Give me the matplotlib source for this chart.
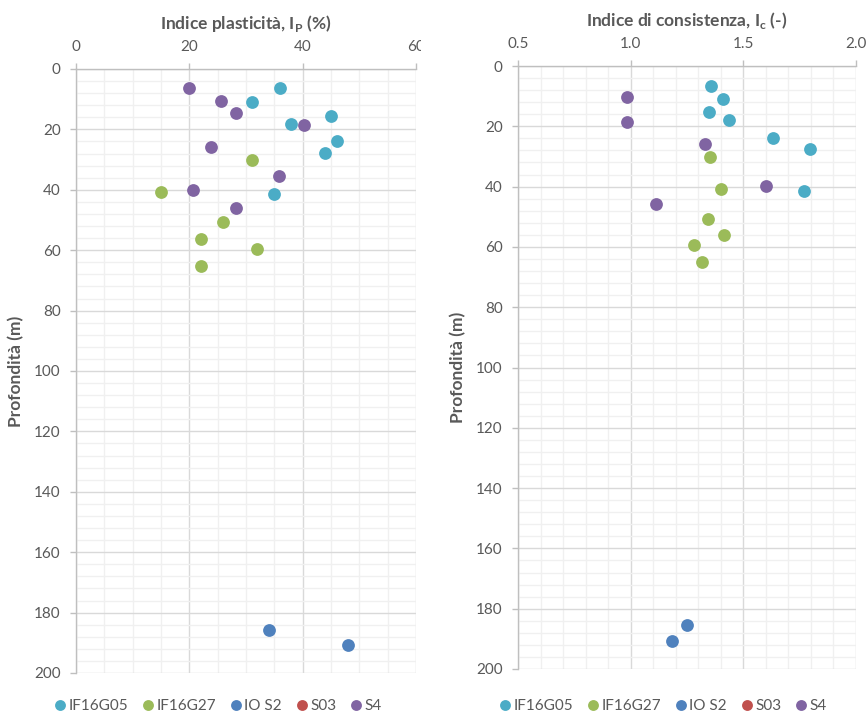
import matplotlib.pyplot as plt
from matplotlib.ticker import MultipleLocator
from matplotlib.patches import Rectangle

plt.rcParams["font.family"] = ["Lato", "DejaVu Sans"]
plt.rcParams["mathtext.fontset"] = "custom"
plt.rcParams["mathtext.rm"] = "Lato:bold"

series = ["IF16G05", "IF16G27", "IO S2", "S03", "S4"]
colors = ["#4BACC6", "#9BBB59", "#4F81BD", "#C0504D", "#8064A2"]

# plasticity index Ip (%) and depth (m) per borehole
ip_if16g05 = [36.0, 31.1, 45.0, 38.0, 46.1, 43.9, 34.9]
z_ip_if16g05 = [6.4, 10.8, 15.4, 18.2, 24.0, 27.7, 41.5]
ip_if16g27 = [31.1, 15.0, 26.0, 22.0, 31.9, 22.0]
z_ip_if16g27 = [30.2, 40.8, 50.8, 56.2, 59.6, 65.2]
ip_ios2 = [34.0, 48.0]
z_ip_ios2 = [185.7, 190.7]
ip_s03 = []
z_ip_s03 = []
ip_s4 = [20.0, 25.6, 28.3, 40.2, 23.9, 35.9, 20.6, 28.3]
z_ip_s4 = [6.3, 10.6, 14.7, 18.7, 25.9, 35.4, 40.0, 46.0]

# consistency index Ic (-) and depth (m) per borehole
ic_if16g05 = [1.355, 1.410, 1.348, 1.435, 1.631, 1.797, 1.770]
z_ic_if16g05 = [6.5, 10.8, 15.3, 18.0, 23.8, 27.5, 41.3]
ic_if16g27 = [1.354, 1.400, 1.345, 1.412, 1.283, 1.316]
z_ic_if16g27 = [30.1, 40.7, 50.7, 56.1, 59.5, 65.0]
ic_ios2 = [1.250, 1.182]
z_ic_ios2 = [185.4, 190.6]
ic_s03 = []
z_ic_s03 = []
ic_s4 = [0.982, 0.985, 1.331, 1.600, 1.114]
z_ic_s4 = [10.4, 18.6, 25.8, 39.8, 45.7]

ip_data = [(ip_if16g05, z_ip_if16g05), (ip_if16g27, z_ip_if16g27),
           (ip_ios2, z_ip_ios2), (ip_s03, z_ip_s03), (ip_s4, z_ip_s4)]
ic_data = [(ic_if16g05, z_ic_if16g05), (ic_if16g27, z_ic_if16g27),
           (ic_ios2, z_ic_ios2), (ic_s03, z_ic_s03), (ic_s4, z_ic_s4)]

W, H = 868, 717
fig = plt.figure(figsize=(W / 100, H / 100), dpi=100)


def px_axes(x0, y0, x1, y1):
    return fig.add_axes([x0 / W, 1 - y1 / H, (x1 - x0) / W, (y1 - y0) / H])


ax1 = px_axes(76, 69, 416, 673)
ax2 = px_axes(518, 66, 856, 669)

text_col = "#595959"


def style(ax, xlim, xmaj, xmin, title):
    ax.set_xlim(*xlim)
    ax.set_ylim(200, 0)
    ax.xaxis.set_major_locator(MultipleLocator(xmaj))
    ax.xaxis.set_minor_locator(MultipleLocator(xmin))
    ax.yaxis.set_major_locator(MultipleLocator(20))
    ax.yaxis.set_minor_locator(MultipleLocator(4))
    ax.xaxis.tick_top()
    ax.xaxis.set_label_position("top")
    ax.grid(which="major", color="#d9d9d9", lw=1.0, zorder=0)
    ax.grid(which="minor", color="#f0f0f0", lw=1.0, zorder=0)
    ax.set_axisbelow(True)
    for s in ["right", "bottom"]:
        ax.spines[s].set_visible(False)
    for s in ["left", "top"]:
        ax.spines[s].set_color("#bfbfbf")
        ax.spines[s].set_linewidth(1.0)
    ax.tick_params(which="major", length=4, width=1, color="#bfbfbf",
                   labelsize=11, labelcolor=text_col, pad=7)
    ax.tick_params(which="minor", length=0)
    ax.set_title(title, fontsize=12.5, fontweight="bold", color=text_col, pad=29)
    ax.set_ylabel("Profondità (m)", fontsize=12.5, fontweight="bold", color=text_col)
    ax.yaxis.set_label_coords(-0.152, 0.5)


style(ax1, (0, 60), 20, 5, r"Indice plasticità, I$_\mathregular{P}$ (%)")
style(ax2, (0.5, 2.0), 0.5, 0.1, r"Indice di consistenza, I$_\mathregular{c}$ (-)")
ax2.xaxis.set_major_formatter(lambda v, p: f"{v:.1f}")

for ax, data in [(ax1, ip_data), (ax2, ic_data)]:
    for name, col, (xv, zv) in zip(series, colors, data):
        ax.plot(xv, zv, "o", ls="none", ms=9.2, mew=0, color=col, label=name,
                zorder=3, clip_on=False)

# the left chart area ends just past its last tick label
fig.patches.append(Rectangle((421 / W, 1 - 62 / H), 14 / W, 30 / H,
                             transform=fig.transFigure, facecolor="white",
                             edgecolor="none", zorder=5))

for ax, cx in [(ax1, 217), (ax2, 662)]:
    h, l = ax.get_legend_handles_labels()
    fig.legend(h, l, loc="center", bbox_to_anchor=(cx / W, 1 - 706 / H), ncol=5,
               frameon=False, fontsize=11, labelcolor=text_col, markerscale=0.85,
               handletextpad=0.05, columnspacing=0.8, handlelength=1.0)

fig.savefig("out.png", dpi=100)
